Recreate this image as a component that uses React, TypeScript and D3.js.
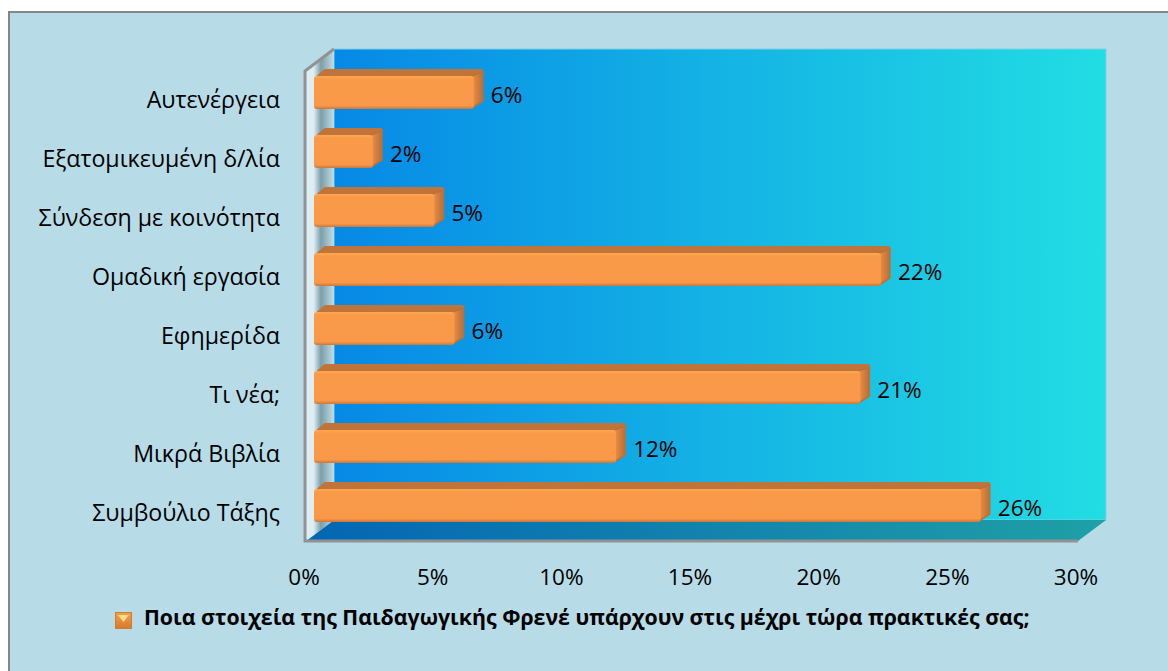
import React from "react";
import * as d3 from "d3";

const categories = ["Αυτενέργεια", "Εξατομικευμένη δ/λία", "Σύνδεση με κοινότητα", "Ομαδική εργασία", "Εφημερίδα", "Τι νέα;", "Μικρά Βιβλία", "Συμβούλιο Τάξης"];
const values = [6.25, 2.33, 4.72, 22.07, 5.5, 21.27, 11.78, 25.95];
const valueLabels = ["6%", "2%", "5%", "22%", "6%", "21%", "12%", "26%"];
const ticks = [0, 5, 10, 15, 20, 25, 30];
const legendLabel = "Ποια στοιχεία της Παιδαγωγικής Φρενέ υπάρχουν στις μέχρι τώρα πρακτικές σας;";

const FONT = "'Open Sans', 'Noto Sans', sans-serif";

export default function App() {
  const x = d3.scaleLinear().domain([0, 30]).range([306, 1078]);
  const y = d3.scaleBand().domain(categories).range([54, 526]).paddingInner(0);
  const dx = 28, dy = 21;
  const barStart = 314, d = 9, h = 6;
  const bodyH = 33;
  const line = d3.line();
  const toBar = (v: number) => barStart + (x(v) - x(0));
  return (
    <svg width={1168} height={671} style={{ position: "absolute", left: 0, top: 0, background: "#fff" }}>
      <defs>
        <linearGradient id="back" x1="0" x2="1" y1="0" y2="0">
          <stop offset="0" stopColor="#0689e6" />
          <stop offset="1" stopColor="#22dde3" />
        </linearGradient>
        <linearGradient id="floor" x1="0" x2="1" y1="0" y2="0">
          <stop offset="0" stopColor="#0466b4" />
          <stop offset="1" stopColor="#1fa0a6" />
        </linearGradient>
        <linearGradient id="wall" x1="0" x2="1" y1="0" y2="0">
          <stop offset="0" stopColor="#dcedf3" />
          <stop offset="0.3" stopColor="#dcedf3" />
          <stop offset="0.55" stopColor="#7c9ea9" />
          <stop offset="1" stopColor="#c0dde7" />
        </linearGradient>
        <linearGradient id="front" x1="0" x2="0" y1="0" y2="1">
          <stop offset="0" stopColor="#ffa850" />
          <stop offset="0.1" stopColor="#f99a49" />
          <stop offset="0.9" stopColor="#f99849" />
          <stop offset="1" stopColor="#c9773a" />
        </linearGradient>
        <linearGradient id="side" x1="0" x2="1" y1="0" y2="0">
          <stop offset="0" stopColor="#ef8f45" />
          <stop offset="1" stopColor="#b96f37" />
        </linearGradient>
        <linearGradient id="leg" x1="0" x2="0" y1="0" y2="1">
          <stop offset="0" stopColor="#f2a14c" />
          <stop offset="1" stopColor="#d9782c" />
        </linearGradient>
      </defs>

      <rect x={9} y={12} width={1170} height={670} fill="#b7dce8" stroke="#868686" strokeWidth={2} />

      <path d={line([[x(0) + dx, 49], [x(30) + dx, 49], [x(30) + dx, 541 - dy], [x(0) + dx, 541 - dy]])! + "Z"} fill="url(#back)" stroke="#7fd0e6" strokeWidth={1} />
      <path d={line([[x(0), 541], [x(30), 541], [x(30) + dx, 541 - dy], [x(0) + dx, 541 - dy]])! + "Z"} fill="url(#floor)" />
      <path d={line([[x(0) - 1, 71], [x(0) + dx, 49], [x(0) + dx, 541 - dy], [x(0), 541]])! + "Z"} fill="url(#wall)" />
      <path d={line([[x(0) + dx, 49], [x(0) - 1, 71], [x(0) - 1, 541], [x(30), 541]])!} fill="none" stroke="#929292" strokeWidth={3} />

      {categories.map((c, i) => {
        const top = y(c)! + 15;
        const end = toBar(values[i]);
        const fy = top + h + 1;
        return (
          <g key={c}>
            <path d={line([[barStart + 4, fy], [barStart + d + 2, top + 1], [end + d - 2, top + 1], [end + d - 1, top + 3], [end, fy]])! + "Z"} fill="#c0743a" stroke="#c0743a" strokeWidth={2} strokeLinejoin="round" />
            <path d={line([[end - 3, fy + bodyH - 1], [end + d - 1, fy + bodyH - 8], [end + d - 1, top + 3], [end - 3, fy]])! + "Z"} fill="url(#side)" stroke="#bc7138" strokeWidth={1.5} strokeLinejoin="round" />
            <rect x={barStart} y={fy} width={end - barStart - 1} height={bodyH} rx={3} fill="url(#front)" />
            <text x={end + d + 7} y={top + 34} fontFamily={FONT} fontSize={22.5} fill="#000">{valueLabels[i]}</text>
            <text x={280} y={top + 39} textAnchor="end" fontFamily={FONT} fontSize={23.2} fill="#000">{c}</text>
          </g>
        );
      })}

      {ticks.map((t) => (
        <text key={t} x={x(t) - 2} y={585} textAnchor="middle" fontFamily={FONT} fontSize={22.5} fill="#000">{t}%</text>
      ))}

      <g>
        <rect x={115.5} y={612.5} width={16} height={16} fill="url(#leg)" stroke="#c97f3a" />
        <path d={line([[118, 615], [129, 615], [123.5, 622]])! + "Z"} fill="#ffdc8a" />
        <text x={144} y={625} fontFamily={FONT} fontSize={21.3} fontWeight={700} fill="#000">{legendLabel}</text>
      </g>
    </svg>
  );
}
